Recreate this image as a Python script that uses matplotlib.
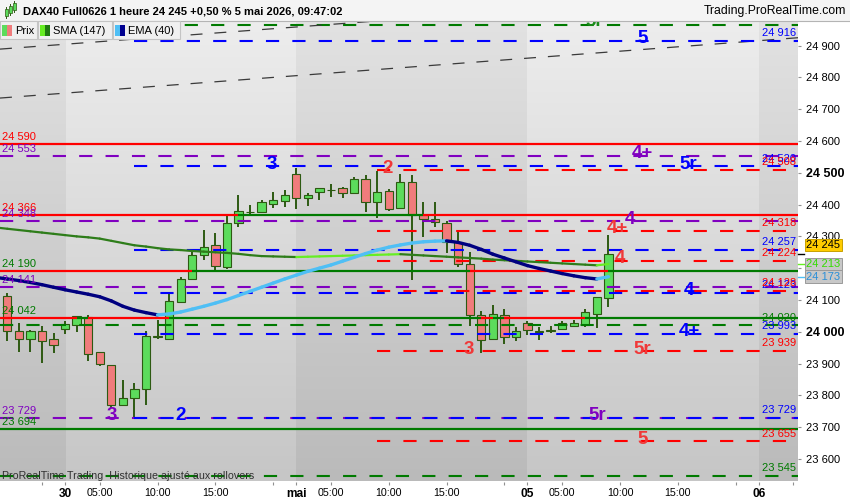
import numpy as np
import matplotlib
matplotlib.use("Agg")
import matplotlib.pyplot as plt
from matplotlib.collections import LineCollection
from matplotlib.patches import Rectangle
from matplotlib.lines import Line2D

plt.rcParams['font.family'] = ['Liberation Sans', 'DejaVu Sans']
plt.rcParams['lines.scale_dashes'] = False

# DAX40 hourly candles, 29 avr 17:00 -> 5 mai 09:00
opens = [24112, 24003, 23976, 24003, 23976, 24008, 24020, 24045, 23935, 23894,
         23768, 23790, 23821, 23983, 23978, 24094, 24165, 24240, 24272, 24205,
         24343, 24376, 24377, 24403, 24412, 24495, 24422, 24441, 24446, 24451,
         24436, 24480, 24409, 24442, 24388, 24470, 24366, 24354, 24343, 24283,
         24212, 24052, 23976, 24052, 23984, 24027, 24000, 24003, 24008, 24019,
         24020, 24055, 24105]
highs = [24123, 24028, 24004, 24018, 23995, 24033, 24050, 24053, 23935, 23896,
         23848, 23838, 24003, 24037, 24119, 24171, 24252, 24320, 24310, 24370,
         24430, 24399, 24415, 24440, 24446, 24515, 24438, 24452, 24465, 24456,
         24488, 24493, 24507, 24448, 24496, 24493, 24408, 24408, 24348, 24315,
         24252, 24066, 24083, 24071, 24016, 24033, 24014, 24018, 24035, 24037,
         24071, 24108, 24304]
lows = [23972, 23937, 23937, 23901, 23932, 23993, 24000, 23909, 23892, 23760,
        23765, 23733, 23768, 23976, 23976, 24091, 24163, 24226, 24192, 24196,
        24329, 24368, 24375, 24389, 24391, 24387, 24397, 24414, 24425, 24422,
        24433, 24378, 24357, 24380, 24387, 24163, 24297, 24330, 24249, 24205,
        24018, 23934, 23974, 23960, 23972, 23990, 23974, 23995, 24005, 24016,
        24016, 24011, 24079]
closes = [24002, 23976, 24003, 23970, 23957, 24024, 24050, 23930, 23898, 23768,
          23790, 23821, 23987, 23986, 24096, 24165, 24240, 24268, 24206, 24341,
          24379, 24378, 24408, 24413, 24429, 24422, 24429, 24451, 24447, 24436,
          24480, 24409, 24439, 24387, 24470, 24367, 24354, 24344, 24283, 24213,
          24052, 23974, 24055, 23984, 24001, 24005, 24001, 24004, 24027, 24028,
          24061, 24108, 24245]

# moving averages, starting one candle before the first visible one
sma147 = [24328, 24324, 24320, 24316, 24312, 24308, 24304, 24300, 24297, 24293,
          24286, 24279, 24272, 24268, 24263, 24259, 24257, 24254, 24252, 24250,
          24248, 24245, 24241, 24238, 24237, 24236, 24235, 24236, 24237, 24238,
          24239, 24240, 24241, 24242, 24243, 24244, 24242, 24240, 24238, 24236,
          24234, 24232, 24230, 24227, 24225, 24223, 24221, 24219, 24217, 24215,
          24213, 24211, 24209, 24213]
ema40 = [24171, 24166, 24161, 24155, 24148, 24140, 24132, 24125, 24118, 24110,
         24097, 24080, 24068, 24060, 24053, 24056, 24062, 24071, 24080, 24090,
         24101, 24114, 24127, 24140, 24153, 24166, 24178, 24190, 24200, 24210,
         24222, 24234, 24246, 24257, 24266, 24273, 24279, 24283, 24285, 24286,
         24281, 24272, 24259, 24244, 24232, 24220, 24208, 24199, 24191, 24183,
         24176, 24170, 24166, 24173]

# horizontal levels
solid_levels = [24590, 24366, 24190, 24042, 23694]
purple_levels = [24553, 24348, 24141, 23729]
green_levels = [24965, 24020, 23545]
blue_levels = [24916, 24520, 24257, 24123, 23993, 23729]
red_levels = [24508, 24318, 24224, 24128, 23939, 23655]
blue_start = 11   # swing low candle
red_start = 32    # swing high candle

# dashed channel, two anchor points each (candle index, price)
channel_low = [(0, 24737), (60, 24902)]
channel_high = [(0, 24891), (60, 25054)]

# wave counts drawn on the levels
wave_labels = [
    ('5r', 50.8, 24970, '#1a8a1a'),
    ('5', 55.0, 24916, '#0000ff'),
    ('4+', 54.9, 24553, '#8000c0'),
    ('5r', 58.9, 24520, '#0000ff'),
    ('3', 22.9, 24520, '#0000ff'),
    ('2', 32.9, 24508, '#f03838'),
    ('4', 53.9, 24348, '#8000c0'),
    ('4+', 52.8, 24318, '#f03838'),
    ('4', 53.0, 24224, '#f03838'),
    ('4', 59.0, 24123, '#0000ff'),
    ('4+', 59.0, 23993, '#0000ff'),
    ('5r', 54.9, 23939, '#f03838'),
    ('3', 39.9, 23939, '#f03838'),
    ('3', 9.0, 23729, '#8000c0'),
    ('2', 15.0, 23729, '#0000ff'),
    ('5r', 51.0, 23729, '#8000c0'),
    ('5', 55.0, 23655, '#f03838'),
]

tick_pos = [3, 5, 8, 13, 18, 23, 25, 28, 33, 38, 43, 45, 48, 53, 58, 63, 65, 68]
tick_text = ['', '30', '05:00', '10:00', '15:00', '', 'mai', '05:00', '10:00', '15:00',
             '', '05', '05:00', '10:00', '15:00', '', '06', '']
day_names = ['30', 'mai', '05', '06']
price_ticks = list(range(23600, 25000, 100))


def fmt(v):
    return f"{v:,.0f}".replace(',', ' ')


RED = '#ff0000'
GREEN = '#007a00'
BLUE = '#0000ff'
PURPLE = '#8000c0'
DASH = (0, (9.5, 9.5))

fig = plt.figure(figsize=(8.5, 5), dpi=100)
fig.patch.set_facecolor('white')
ax = fig.add_axes([0, 1 - 481.5 / 500, 798 / 850, (481.5 - 21.3) / 500])

xl0, xl1 = -0.63, 68.4
yl0, yl1 = 23528.7, 24976.8

# background: vertical gradient, alternating day bands
cols = np.linspace(xl0, xl1, 1400)
rows = np.linspace(0, 1, 300)[:, None]
light = (np.floor((cols - 5) / 20) % 2 == 0)
top = np.where(light, 237, 226)
bot = np.where(light, 198, 186)
grey = (top + (bot - top) * rows) / 255.0
ax.imshow(np.dstack([grey] * 3), extent=(xl0, xl1, yl0, yl1), aspect='auto',
          origin='upper', interpolation='nearest', zorder=0)

# candles
idx = np.arange(len(closes))
o = np.array(opens)
c = np.array(closes)
up = c >= o
edge = '#2d5a12'
ax.vlines(idx, lows, highs, color=edge, lw=1.4, zorder=2)
ax.bar(idx, np.maximum(np.abs(c - o), 1.5), bottom=np.minimum(o, c), width=0.72,
       color=np.where(up, '#5cdc5c', '#f07c7c'), edgecolor=edge, linewidth=0.8, zorder=2.5)

# solid levels: red while price is below, green while above
bounds = [xl0] + list(range(len(closes))) + [xl1]
for lv in solid_levels:
    segs, colors = [], []
    for k in range(len(bounds) - 1):
        ci = closes[max(k - 1, 0)]
        segs.append([(bounds[k], lv), (bounds[k + 1], lv)])
        colors.append(GREEN if ci > lv else RED)
    ax.add_collection(LineCollection(segs, colors=colors, linewidths=1.6, zorder=3))

for lv in purple_levels:
    ax.axhline(lv, color=PURPLE, lw=1.5, ls=DASH, zorder=3)
for lv in green_levels:
    ax.axhline(lv, color=GREEN, lw=1.5, ls=DASH, zorder=3)
ax.hlines(blue_levels, blue_start, xl1, color=BLUE, lw=1.5, linestyles=[DASH], zorder=3.1)
ax.hlines(red_levels, red_start, xl1, color=RED, lw=1.5, linestyles=[DASH], zorder=3)

for p0, p1 in (channel_low, channel_high):
    ax.axline(p0, p1, color='#3a3a3a', lw=0.9, ls=(0, (8.6, 8.6)), zorder=3)


# moving averages, light colour when rising
def ma_line(vals, dark, bright, lw):
    xs = np.arange(-1, len(vals) - 1)
    segs = [[(xs[i], vals[i]), (xs[i + 1], vals[i + 1])] for i in range(len(vals) - 1)]
    cols_ = [bright if vals[i + 1] > vals[i] else dark for i in range(len(vals) - 1)]
    ax.add_collection(LineCollection(segs, colors=cols_, linewidths=lw, zorder=4,
                                     capstyle='round'))


ma_line(sma147, '#2e7d1a', '#66ee22', 1.6)
ma_line(ema40, '#000080', '#4fbff5', 2.4)

# value labels on the levels
last = closes[-1]
left_items = [(lv, GREEN if lv < last else RED) for lv in solid_levels] + \
             [(lv, PURPLE) for lv in purple_levels]
for lv, col in left_items:
    ax.annotate(fmt(lv), xy=(0, lv), xycoords=('axes fraction', 'data'), xytext=(1.5, 3),
                textcoords='offset points', ha='left', va='baseline', fontsize=8,
                color=col, zorder=6, clip_on=True)
right_items = [(lv, BLUE) for lv in blue_levels] + [(lv, RED) for lv in red_levels] + \
              [(lv, GREEN) for lv in green_levels]
for lv, col in right_items:
    ax.annotate(fmt(lv), xy=(0.955, lv), xycoords=('axes fraction', 'data'), xytext=(0, 3.5),
                textcoords='offset points', ha='left', va='baseline', fontsize=8,
                color=col, zorder=6, clip_on=True)

for txt, xi, lv, col in wave_labels:
    ax.annotate(txt, xy=(xi, lv), xytext=(0, 1.5), textcoords='offset points',
                ha='center', va='center', fontsize=13.5, fontweight='bold', color=col,
                zorder=7, clip_on=True)

ax.set_xlim(xl0, xl1)
ax.set_ylim(yl0, yl1)
for s in ax.spines.values():
    s.set_visible(False)

# axes ticks
ax.set_xticks(tick_pos, labels=tick_text)
for lab in ax.get_xticklabels():
    if lab.get_text() in day_names:
        lab.set_fontweight('bold')
        lab.set_fontsize(8.6)
    else:
        lab.set_fontsize(7.7)
ax.tick_params(axis='x', length=2.5, color='#909090', pad=2.5)

ax.set_yticks(price_ticks, labels=[fmt(t) for t in price_ticks])
ax.tick_params(axis='y', left=False, labelleft=False, right=True, labelright=True,
               length=2.5, color='#909090', pad=3, labelsize=8)
for lab in ax.get_yticklabels():
    if lab.get_text() in ('24 500', '24 000'):
        lab.set_fontweight('bold')
        lab.set_fontsize(9)


# value boxes on the price scale
def price_box(val, txt_col, face, edgec, line_col, dy):
    ax.plot([1.0, 1.008], [val, val], transform=ax.get_yaxis_transform(), color=line_col,
            lw=1.0, clip_on=False, zorder=8)
    ax.annotate(fmt(val), xy=(1.0, val), xycoords=('axes fraction', 'data'),
                xytext=(6, dy), textcoords='offset points', ha='left', va='center',
                fontsize=8, color=txt_col, annotation_clip=False, zorder=9,
                bbox=dict(boxstyle='square,pad=0.12', fc=face, ec=edgec, lw=0.7))


price_box(sma147[-1], '#33dd00', '#c8c8c8', '#9a9a9a', '#66ee22', 0)
price_box(ema40[-1], '#2a8fd8', '#c8c8c8', '#9a9a9a', '#4fbff5', 0)
price_box(closes[-1], 'black', '#ffcc00', '#c8a000', 'black', 6.4)


# header and legend
def fx(x):
    return x / 850


def fy(y):
    return 1 - y / 500


fig.add_artist(Rectangle((0, fy(21)), 1, 21 / 500, transform=fig.transFigure,
                         facecolor='#f4f4f4', edgecolor='none', zorder=1))
fig.add_artist(Line2D([0, 1], [fy(21), fy(21)], transform=fig.transFigure,
                      color='#b4b4b4', lw=0.8, zorder=2))
for cx, y0, y1 in ((6, 9, 16), (10, 6, 13), (14, 3, 10)):
    fig.add_artist(Line2D([fx(cx), fx(cx)], [fy(y1 + 2), fy(y0 - 2)],
                          transform=fig.transFigure, color='#2d5a12', lw=0.7, zorder=2))
    fig.add_artist(Rectangle((fx(cx - 1.5), fy(y1)), 3 / 850, (y1 - y0) / 500,
                             transform=fig.transFigure, facecolor='#5cdc5c',
                             edgecolor='#2d5a12', lw=0.5, zorder=3))
fig.text(fx(23), fy(11), 'DAX40 Full0626 1 heure 24 245 +0,50 % 5 mai 2026, 09:47:02',
         fontsize=8, fontweight='bold', va='center', ha='left', zorder=3)
fig.text(fx(846), fy(11), 'Trading.ProRealTime.com', fontsize=8.8, va='center',
         ha='right', zorder=3)

legend_boxes = [(0, 37, 'Prix', ('#5cdc5c', '#f07c7c')),
                (37.7, 112, 'SMA (147)', ('#66ee22', '#1f7a10')),
                (112.7, 180, 'EMA (40)', ('#4fbff5', '#000090'))]
for x0, x1, name, (c1, c2) in legend_boxes:
    fig.add_artist(Rectangle((fx(x0), fy(39)), (x1 - x0) / 850, 17.5 / 500,
                             transform=fig.transFigure, facecolor='#f0f0f0',
                             edgecolor='#c4c4c4', lw=0.8, zorder=5))
    fig.add_artist(Rectangle((fx(x0 + 2), fy(35.5)), 5 / 850, 10 / 500,
                             transform=fig.transFigure, facecolor=c1, edgecolor='none',
                             zorder=6))
    fig.add_artist(Rectangle((fx(x0 + 7), fy(35.5)), 5 / 850, 10 / 500,
                             transform=fig.transFigure, facecolor=c2, edgecolor='none',
                             zorder=6))
    fig.text(fx(x0 + 15.5), fy(30.5), name, fontsize=8, va='center', ha='left', zorder=7)

fig.text(fx(2), fy(476), 'ProRealTime Trading  Historique ajusté aux rollovers',
         fontsize=7.7, color='#303030', va='center', ha='left', zorder=7)

fig.savefig('out.png', dpi=100)
